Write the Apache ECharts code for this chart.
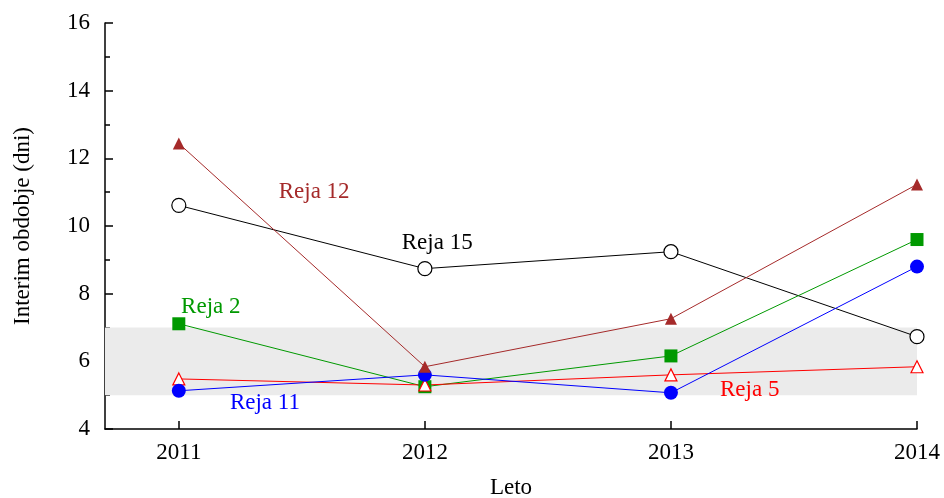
<!DOCTYPE html>
<html>
<head>
<meta charset="utf-8">
<script src="https://cdn.jsdelivr.net/npm/echarts@6/dist/echarts.min.js"></script>
<style>
  html, body { margin: 0; padding: 0; background: #fff; }
  #chart { width: 944px; height: 498px; }
</style>
</head>
<body>
<div id="chart"></div>
<script>
const years = [2011, 2012, 2013, 2014];
const yTicks = [4, 6, 8, 10, 12, 14, 16];

const reja2 = [7.11, 5.25, 6.16, 9.6];
const reja5 = [5.48, 5.3, 5.6, 5.84];
const reja11 = [5.13, 5.6, 5.07, 8.8];
const reja12 = [12.44, 5.84, 7.26, 11.23];
const reja15 = [10.61, 8.74, 9.24, 6.73];

// label anchor points, in data units
const labelPos = {
  "Reja 12": [2011.55, 11.0],
  "Reja 15": [2012.05, 9.5],
  "Reja 2": [2011.13, 7.6],
  "Reja 11": [2011.35, 4.77],
  "Reja 5": [2013.32, 5.15],
};

const font = "Liberation Serif";
const fs = 23;

// hollow = white fill with a thin outline in the series colour
const makeSeries = (name, values, color, symbol, size, hollow, extra) => {
  const s = {
    name: name,
    type: "line",
    data: years.map((y, i) => [y, values[i]]),
    symbol: symbol,
    symbolSize: size,
    showAllSymbol: true,
    lineStyle: { color: color, width: 1 },
    itemStyle: {
      color: hollow ? "#ffffff" : color,
      borderColor: color,
      borderWidth: hollow ? 1.2 : 0,
    },
    emphasis: { disabled: true },
    z: 3,
    markPoint: {
      symbol: "circle",
      symbolSize: 0,
      silent: true,
      label: {
        show: true,
        formatter: name,
        color: color,
        fontFamily: font,
        fontSize: fs,
        position: "inside",
      },
      data: [{ coord: labelPos[name] }],
    },
  };
  return Object.assign(s, extra || {});
};

const chart = echarts.init(document.getElementById("chart"));

chart.setOption({
  animation: false,
  grid: {
    left: 105, right: 27, top: 23, bottom: 69,
    containLabel: false,
    outerBoundsMode: "none",
  },
  xAxis: {
    type: "value",
    min: 2010.7,
    max: 2014,
    name: "Leto",
    nameLocation: "middle",
    nameGap: 47,
    nameTextStyle: { fontFamily: font, fontSize: fs, color: "#000" },
    axisLine: { show: true, lineStyle: { color: "#000", width: 1.5 } },
    axisTick: {
      show: true,
      inside: true,
      length: 8,
      customValues: years,
      lineStyle: { color: "#000", width: 1.5 },
    },
    axisLabel: {
      customValues: years,
      formatter: (v) => String(v),
      margin: 12,
      fontFamily: font,
      fontSize: fs,
      color: "#000",
    },
    splitLine: { show: false },
  },
  yAxis: {
    type: "value",
    min: 4,
    max: 16,
    interval: 2,
    name: "Interim obdobje (dni)",
    nameLocation: "middle",
    nameGap: 71,
    nameTextStyle: { fontFamily: font, fontSize: fs, color: "#000" },
    axisLine: { show: true, lineStyle: { color: "#000", width: 1.5 } },
    axisTick: {
      show: true,
      inside: true,
      length: 8,
      lineStyle: { color: "#000", width: 1.5 },
    },
    minorTick: {
      show: true,
      splitNumber: 2,
      length: 5,
      lineStyle: { color: "#000", width: 1.5 },
    },
    axisLabel: {
      customValues: yTicks,
      margin: 15,
      fontFamily: font,
      fontSize: fs,
      color: "#000",
    },
    splitLine: { show: false },
  },
  series: [
    makeSeries("Reja 15", reja15, "#000000", "circle", 14, true),
    makeSeries("Reja 2", reja2, "#009900", "rect", 13, false, {
      markArea: {
        silent: true,
        itemStyle: { color: "#ebebeb" },
        data: [[{ yAxis: 5 }, { yAxis: 7 }]],
      },
    }),
    makeSeries("Reja 5", reja5, "#ff0000", "triangle", 12, true),
    makeSeries("Reja 11", reja11, "#0000ff", "circle", 14, false),
    makeSeries("Reja 12", reja12, "#a52a2a", "triangle", 12, false),
  ],
});
</script>
</body>
</html>
